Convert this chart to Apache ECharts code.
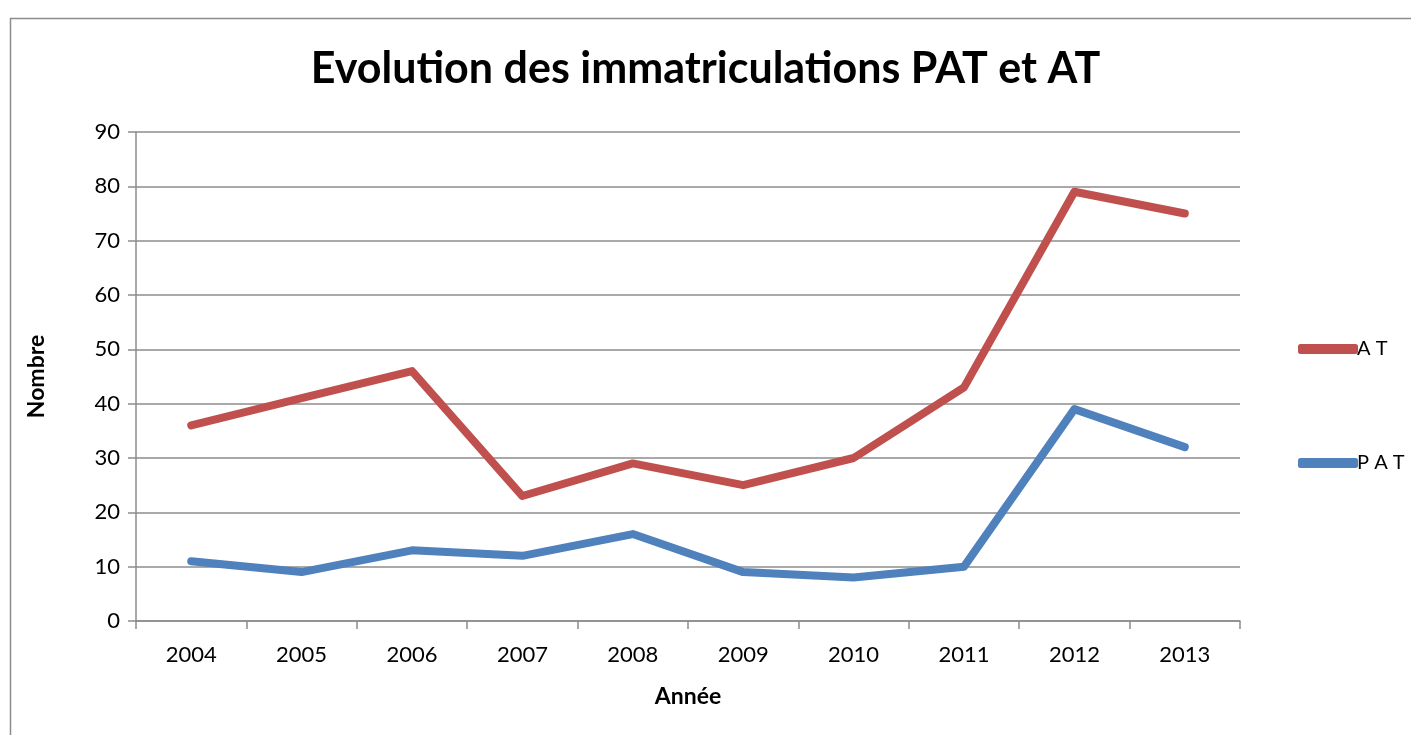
<!DOCTYPE html>
<html lang="fr">
<head>
    <meta charset="UTF-8">
    <title>Evolution des immatriculations PAT et AT</title>
    <script src="https://cdn.jsdelivr.net/npm/echarts@6/dist/echarts.min.js"></script>
    <style>
        html, body { margin: 0; padding: 0; background: #fff; }
        #chart { width: 1411px; height: 735px; }
    </style>
</head>
<body>
    <div id="chart"></div>
<script>
    // données
    var annees = ['2004', '2005', '2006', '2007', '2008', '2009', '2010', '2011', '2012', '2013'];
    var valeursAT = [36, 41, 46, 23, 29, 25, 30, 43, 79, 75];
    var valeursPAT = [11, 9, 13, 12, 16, 9, 8, 10, 39, 32];
    var nomsSeries = ['A T', 'P A T'];

    var myChart = echarts.init(document.getElementById('chart'));
    var police = 'Lato, "Open Sans", sans-serif';

    var option = {
        animation: false,
        textStyle: { fontFamily: police },
        title: {
            text: 'Evolution des immatriculations PAT et AT',
            left: 'center',
            top: 43,
            textStyle: { fontSize: 43, fontWeight: 'bold', color: '#000', fontFamily: police }
        },
        // cadre gris autour du graphique
        graphic: [{
            type: 'rect',
            shape: { x: 10.5, y: 18.5, width: 1420, height: 740 },
            style: { fill: 'none', stroke: '#8c8c8c', lineWidth: 1.5 },
            silent: true
        }],
        legend: {
            orient: 'vertical',
            left: 1293,
            top: 334,
            icon: 'roundRect',
            itemWidth: 60,
            itemHeight: 10,
            itemGap: 94,
            data: nomsSeries,
            textStyle: { fontSize: 20, color: '#000', padding: [0, 0, 0, -6] }
        },
        grid: { left: 136, right: 171, top: 132, bottom: 114, containLabel: false },
        xAxis: {
            type: 'category',
            data: annees,
            boundaryGap: true,
            name: 'Année',
            nameLocation: 'middle',
            nameGap: 64,
            nameTextStyle: { fontSize: 23, fontWeight: 'bold', color: '#000' },
            axisLine: { lineStyle: { color: '#8c8c8c', width: 1.5 } },
            axisTick: { show: true, length: 8, alignWithLabel: false, lineStyle: { color: '#8c8c8c', width: 1.5 } },
            axisLabel: { fontSize: 22, color: '#000', margin: 23 }
        },
        yAxis: {
            type: 'value',
            min: 0,
            max: 90,
            interval: 10,
            name: 'Nombre',
            nameLocation: 'middle',
            nameGap: 88,
            nameRotate: 90,
            nameTextStyle: { fontSize: 23, fontWeight: 'bold', color: '#000' },
            axisLine: { show: true, lineStyle: { color: '#8c8c8c', width: 1.5 } },
            axisTick: { show: true, length: 8, lineStyle: { color: '#8c8c8c', width: 1.5 } },
            axisLabel: { fontSize: 22, color: '#000', margin: 16 },
            splitLine: { lineStyle: { color: '#8c8c8c', width: 1.5 } }
        },
        series: [
            {
                name: nomsSeries[0],
                type: 'line',
                data: valeursAT,
                showSymbol: false,
                symbol: 'none',
                lineStyle: { color: '#C0504D', width: 8, cap: 'round', join: 'round' },
                itemStyle: { color: '#C0504D' }
            },
            {
                name: nomsSeries[1],
                type: 'line',
                data: valeursPAT,
                showSymbol: false,
                symbol: 'none',
                lineStyle: { color: '#4F81BD', width: 8, cap: 'round', join: 'round' },
                itemStyle: { color: '#4F81BD' }
            }
        ]
    };
    myChart.setOption(option, true);
</script>
</body>
</html>
